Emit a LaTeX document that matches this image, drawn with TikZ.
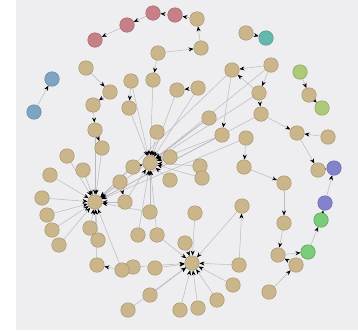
\documentclass[tikz,border=0pt]{standalone}
\usetikzlibrary{arrows.meta,backgrounds}

\definecolor{panelgray}{RGB}{238,238,240}
\definecolor{tanfill}{RGB}{203,182,140}
\definecolor{tanline}{RGB}{168,148,108}
\definecolor{pinkfill}{RGB}{200,128,135}
\definecolor{bluefill}{RGB}{125,165,195}
\definecolor{tealfill}{RGB}{100,185,175}
\definecolor{limefill}{RGB}{172,202,120}
\definecolor{purplefill}{RGB}{130,130,205}
\definecolor{greenfill}{RGB}{120,205,120}
\definecolor{linkgray}{RGB}{185,185,192}

\tikzset{
  vertex/.style={circle, draw=tanline, fill=tanfill, minimum size=14.5pt, inner sep=0pt, line width=0.5pt},
  pinkv/.style={vertex, fill=pinkfill, draw=pinkfill!80!black},
  bluev/.style={vertex, fill=bluefill, draw=bluefill!80!black},
  tealv/.style={vertex, fill=tealfill, draw=tealfill!80!black},
  limev/.style={vertex, fill=limefill, draw=limefill!80!black},
  purplev/.style={vertex, fill=purplefill, draw=purplefill!80!black},
  greenv/.style={vertex, fill=greenfill, draw=greenfill!75!black},
  link/.style={linkgray, line width=0.5pt, -{Stealth[length=5pt,width=4pt,color=black]}}
}

\begin{document}
\begin{tikzpicture}[x=1pt, y=-1pt]
        \useasboundingbox (0,0) rectangle (358,330);
        % plain tan vertices
        \foreach \n/\x/\y in {t1/197/19, t2/201/48, t3/158/53, t4/86/68, t5/131/81, t6/153/80,
            t7/110/92, t8/177/90, t9/198/88, t10/246/33, t11/232/70, t12/271/65, t13/259/93,
            t14/309/95, t15/93/105, t16/129/108, t17/209/118, t18/261/114, t19/95/130,
            t20/157/132, t21/222/135, t22/246/138, t23/297/133, t24/328/137, t25/102/148,
            t26/67/156, t27/170/157, t29/150/163, t30/133/167, t31/200/166, t32/202/178,
            t33/83/170, t34/244/167, t35/318/170, t36/50/175, t37/120/182, t38/170/180,
            t39/284/183, h1/95/202, t40/42/198, t41/125/202, t42/242/206, t43/150/212,
            t44/195/213, t46/47/215, t47/284/223, t48/52/230, t49/90/228, t50/98/240,
            t51/138/235, t52/157/235, t53/185/243, t54/59/245, t55/278/255, t56/296/265,
            t57/239/265, h4/192/263, t58/155/268, t59/133/267, t60/122/270, t61/97/265,
            t62/269/292, t63/233/285, t64/150/295, t65/217/300, t66/198/308, t67/180/310,
            t68/128/310}
            \node[vertex] (\n) at (\x,\y) {};
        % coloured vertices
        \foreach \n/\x/\y/\s in {pA/95/40/pinkv, pB/127/25/pinkv, pC/153/13/pinkv, pD/175/15/pinkv,
            bA/52/79/bluev, bB/34/112/bluev, cT/266/38/tealv, gA/300/72/limev, gB/322/108/limev,
            uA/334/168/purplev, uB/325/203/purplev, gC/321/220/greenv, gD/308/252/greenv}
            \node[\s] (\n) at (\x,\y) {};
        \begin{scope}[on background layer]
            \fill[white] (0,0) rectangle (358,330);
            \fill[panelgray] (16,0) rectangle (358,330);
            \foreach \a/\b in {pB/pA, pC/pB, pD/pC, t1/pD, t2/t1, t3/t2, bB/bA, t10/cT,
                gA/t14, t14/gB, t12/t11, t13/t11, t11/t21, t18/t23, t24/t23, t23/t35,
                t35/uA, uB/uA, gC/uB, gD/gC, t55/gD, t56/t55, t62/t56, t47/t55, t39/t47,
                t34/t39, t22/t34, t57/t42, t4/t7, t7/t15, t15/t19, t3/t6, t5/t16, t9/t8,
                t31/t32, t19/t25, t12/t13, t13/t18, t37/t41, t49/t50, t60/t61}
                \draw[link] (\a) -- (\b);
            % first hub
            \foreach \a in {t33, t36, t40, t46, t48, t54, t49, t50, t61, t37, t26, t25,
                t19, t30, t17, t21, t18, t22, t11, t41, t43, t60}
                \draw[link] (\a) -- (h1);
            % second hub
            \foreach \a in {t20, t16, t6, t8, t9, t13, t27, t38, t41, t43, t51, t52, t30,
                t5, t12, t21, t31, t32, t17}
                \draw[link] (\a) -- (t29);
            % third hub
            \foreach \a in {t53, t57, t63, t65, t66, t67, t64, t58, t44, t42, t52, t59, t68}
                \draw[link] (\a) -- (h4);
        \end{scope}
    \end{tikzpicture}
\end{document}
